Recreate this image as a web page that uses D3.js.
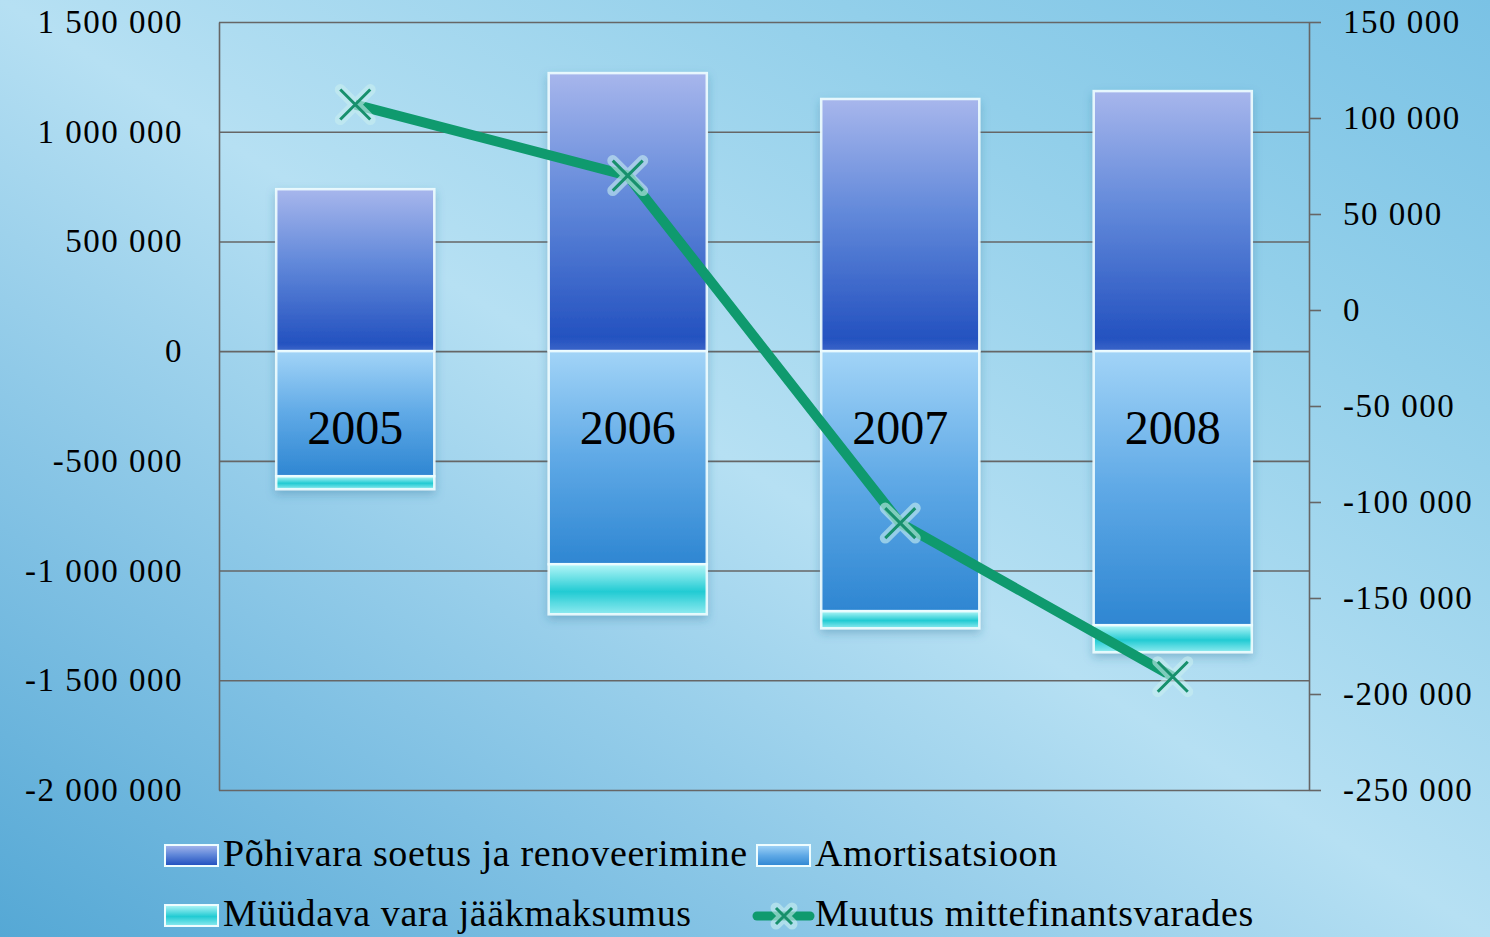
<!DOCTYPE html>
<html>
<head>
<meta charset="utf-8">
<script src="https://cdn.jsdelivr.net/npm/d3@7"></script>
<style>
  body { margin: 0; overflow: hidden; }
  svg { display: block; }
  text { font-family: "Liberation Serif", "DejaVu Serif", serif; fill: #000; }
</style>
</head>
<body>
<svg id="chart" width="1490" height="937"></svg>
<script>
// data
const years = ["2005", "2006", "2007", "2008"];
const pohivara = [738000, 1267000, 1149000, 1185000];     // Põhivara soetus ja renoveerimine
const amortisatsioon = [-570000, -971000, -1185000, -1249000];
const muudavaVara = [-59000, -228000, -78000, -123000];  // Müüdava vara jääkmaksumus
const muutus = [107000, 70000, -111000, -191000];         // Muutus mittefinantsvarades (right axis)

const leftTicks = [-2000000, -1500000, -1000000, -500000, 0, 500000, 1000000, 1500000];
const rightTicks = [-250000, -200000, -150000, -100000, -50000, 0, 50000, 100000, 150000];

const legendNames = ["Põhivara soetus ja renoveerimine", "Amortisatsioon",
                     "Müüdava vara jääkmaksumus", "Muutus mittefinantsvarades"];

const W = 1490, H = 937;
const plotL = 219, plotR = 1309, plotT = 22, plotB = 790;

const svg = d3.select("#chart");

const yL = d3.scaleLinear().domain([-2000000, 1500000]).range([plotB, plotT]);
const yR = d3.scaleLinear().domain([-250000, 150000]).range([plotB, plotT]);
const x = d3.scaleBand().domain(years).range([plotL, plotR])
    .paddingInner(0.42).paddingOuter(0.21);

const loc = d3.formatLocale({decimal: ",", thousands: " ", grouping: [3], currency: ["", ""], minus: "-"});
const fmt = loc.format(",d");

// gradients
const defs = svg.append("defs");
const addGrad = (id, stops, horiz) => {
  const g = defs.append("linearGradient").attr("id", id)
      .attr("x1", 0).attr("y1", 0).attr("x2", horiz ? 1 : 0).attr("y2", horiz ? 0 : 1);
  stops.forEach(s => g.append("stop").attr("offset", s[0]).attr("stop-color", s[1]));
};
addGrad("bg", [[0, "#55a8d5"], [0.22, "#7fc0e3"], [0.5, "#b6e0f3"], [0.78, "#92cfea"], [1, "#7ac2e5"]]);
defs.select("#bg").attr("x1", 0).attr("y1", 1).attr("x2", 1).attr("y2", 0);
addGrad("gPoh", [[0, "#a7b6ec"], [0.45, "#6289da"], [0.95, "#2452c0"], [1, "#3a64c8"]]);
addGrad("gAmo", [[0, "#a2d4f7"], [0.5, "#5fa9e6"], [1, "#2e86d2"]]);
addGrad("gMuu", [[0, "#b4f6f8"], [0.55, "#22cbd3"], [1, "#8eeaf0"]]);

const glow = defs.append("filter").attr("id", "glow")
    .attr("x", "-20%").attr("y", "-20%").attr("width", "140%").attr("height", "140%");
glow.append("feDropShadow").attr("dx", 0).attr("dy", 4).attr("stdDeviation", 5)
    .attr("flood-color", "#2a6f93").attr("flood-opacity", 0.35);

svg.append("rect").attr("width", W).attr("height", H).attr("fill", "url(#bg)");

// left axis with gridlines
const gLeft = svg.append("g").attr("transform", `translate(${plotL},0)`)
    .call(d3.axisLeft(yL).tickValues(leftTicks).tickSize(-(plotR - plotL))
      .tickSizeOuter(0).tickPadding(36).tickFormat(fmt));
gLeft.selectAll("line, path").attr("stroke", "#666").attr("stroke-width", 1.6);
gLeft.selectAll("text").attr("font-size", 33).attr("letter-spacing", 1.5)
    .attr("font-family", "Liberation Serif");

// bars
const rows = years.map((yr, i) => ({
  yr, pos: pohivara[i], amo: amortisatsioon[i], muu: muudavaVara[i]
}));
const bars = svg.append("g").selectAll("g").data(rows).join("g").attr("filter", "url(#glow)");
const barStyle = sel => sel.attr("x", d => x(d.yr)).attr("width", x.bandwidth())
    .attr("stroke", "#eefdff").attr("stroke-width", 2.5).attr("stroke-opacity", 0.9);

bars.append("rect").call(barStyle)
    .attr("y", d => yL(d.pos)).attr("height", d => yL(0) - yL(d.pos))
    .attr("fill", "url(#gPoh)");
bars.append("rect").call(barStyle)
    .attr("y", yL(0)).attr("height", d => yL(d.amo) - yL(0))
    .attr("fill", "url(#gAmo)");
bars.append("rect").call(barStyle)
    .attr("y", d => yL(d.amo)).attr("height", d => yL(d.amo + d.muu) - yL(d.amo))
    .attr("fill", "url(#gMuu)");

// year labels
svg.append("g").selectAll("text").data(years).join("text")
    .attr("x", d => x(d) + x.bandwidth() / 2).attr("y", 444)
    .attr("text-anchor", "middle").attr("font-size", 48)
    .text(d => d);

// right axis
const gRight = svg.append("g").attr("transform", `translate(${plotR},0)`)
    .call(d3.axisRight(yR).tickValues(rightTicks).tickSize(12)
      .tickSizeOuter(0).tickPadding(22).tickFormat(fmt));
gRight.selectAll("line, path").attr("stroke", "#666").attr("stroke-width", 1.6);
gRight.selectAll("text").attr("font-size", 33).attr("letter-spacing", 1.5)
    .attr("font-family", "Liberation Serif");

// line
const pts = years.map((yr, i) => [x(yr) + x.bandwidth() / 2, yR(muutus[i])]);
svg.append("path").datum(pts)
    .attr("d", d3.line())
    .attr("fill", "none").attr("stroke", "#0f9a6e").attr("stroke-width", 10)
    .attr("stroke-linejoin", "round");

const drawX = (g, s) => {
  g.append("path").attr("d", `M${-s},${-s}L${s},${s}M${-s},${s}L${s},${-s}`)
      .attr("stroke", "#c8eef0").attr("stroke-opacity", 0.6).attr("stroke-width", 11)
      .attr("stroke-linecap", "round");
  g.append("path").attr("d", `M${-s},${-s}L${s},${s}M${-s},${s}L${s},${-s}`)
      .attr("stroke", "#17906c").attr("stroke-width", 3);
};
svg.append("g").selectAll("g").data(pts).join("g")
    .attr("transform", d => `translate(${d[0]},${d[1]})`)
    .each(function() { drawX(d3.select(this), 15); });

// legend
const legend = svg.append("g");
const legItems = [
  {name: legendNames[0], x: 165, y: 845, fill: "url(#gPoh)"},
  {name: legendNames[1], x: 757, y: 845, fill: "url(#gAmo)"},
  {name: legendNames[2], x: 165, y: 905, fill: "url(#gMuu)"},
  {name: legendNames[3], x: 757, y: 905, fill: null}
];
legItems.forEach(it => {
  const g = legend.append("g");
  if (it.fill) {
    g.append("rect").attr("x", it.x).attr("y", it.y).attr("width", 53).attr("height", 21)
        .attr("fill", it.fill).attr("stroke", "#eefdff").attr("stroke-width", 2);
  } else {
    g.append("line").attr("x1", it.x).attr("x2", it.x + 53)
        .attr("y1", it.y + 11).attr("y2", it.y + 11)
        .attr("stroke", "#0f9a6e").attr("stroke-width", 9).attr("stroke-linecap", "round");
    const m = g.append("g").attr("transform", `translate(${it.x + 27},${it.y + 11})`);
    drawX(m, 8);
  }
  g.append("text").attr("x", it.x + 58).attr("y", it.y + 21)
      .attr("font-size", 38).attr("letter-spacing", 0.6).text(it.name);
});
</script>
</body>
</html>
